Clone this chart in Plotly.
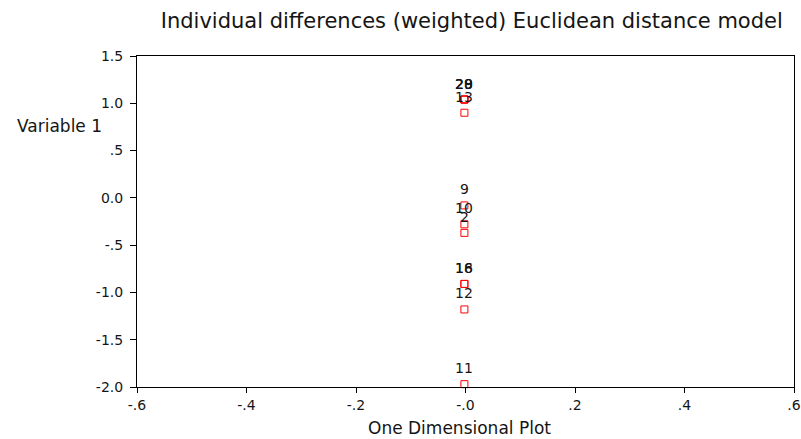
import plotly.graph_objects as go

# Stimulus labels and their coordinates (dimension 1 on the y axis, plot is one-dimensional)
stimulus_labels = ["20", "28", "29", "13", "9", "10", "2", "16", "18", "12", "11"]
dimension1 = [1.04, 1.04, 1.04, 0.90, -0.08, -0.28, -0.37, -0.91, -0.91, -1.18, -1.97]
one_dim_x = [-0.002] * len(stimulus_labels)

y_tickvals = [-2.0, -1.5, -1.0, -0.5, 0.0, 0.5, 1.0, 1.5]
y_ticktext = ["-2.0", "-1.5", "-1.0", "-.5", "0.0", ".5", "1.0", "1.5"]
x_tickvals = [-0.6, -0.4, -0.2, 0.0, 0.2, 0.4, 0.6]
x_ticktext = ["-.6", "-.4", "-.2", "-.0", ".2", ".4", ".6"]

FONT = "DejaVu Sans, Liberation Sans, Arial, sans-serif"
INK = "#151515"

fig = go.Figure()
fig.add_trace(go.Scatter(
    x=one_dim_x, y=dimension1,
    mode="markers",
    marker=dict(symbol="square-open", size=7, color="#ff0000", line=dict(width=1)),
    cliponaxis=False,
    showlegend=False,
    hoverinfo="skip",
))

# point labels placed above each marker
point_labels = [
    dict(x=xv, y=yv, xref="x", yref="y", text=lab, showarrow=False,
         yshift=16, xanchor="center", yanchor="middle",
         font=dict(family=FONT, size=14, color=INK))
    for xv, yv, lab in zip(one_dim_x, dimension1, stimulus_labels)
]

fig.update_layout(
    width=801, height=439,
    margin=dict(l=137, r=7, t=56, b=52, autoexpand=False),
    paper_bgcolor="white", plot_bgcolor="white",
    font=dict(family=FONT, color=INK),
    title=dict(text="Individual differences (weighted) Euclidean distance model",
               x=0.589, xanchor="center", y=0.954, yanchor="middle",
               font=dict(family=FONT, size=21, color=INK)),
    annotations=point_labels + [
        dict(text="Variable 1", xref="paper", yref="paper", x=-0.1857, y=0.789,
             xanchor="left", yanchor="middle", showarrow=False,
             font=dict(family=FONT, size=17, color=INK)),
        dict(text="One Dimensional Plot", xref="paper", yref="paper", x=0.491, y=-0.124,
             xanchor="center", yanchor="middle", showarrow=False,
             font=dict(family=FONT, size=17, color=INK)),
    ],
)

fig.update_xaxes(
    range=[-0.6, 0.6], tickvals=x_tickvals, ticktext=x_ticktext, automargin=False,
    ticklabeloverflow="allow",
    showgrid=False, zeroline=False, showline=True, linecolor="black", linewidth=1,
    mirror=True, ticks="outside", ticklen=5, tickcolor="black",
    tickfont=dict(family=FONT, size=14, color=INK),
)
fig.update_yaxes(
    range=[-2.0, 1.5], tickvals=y_tickvals, ticktext=y_ticktext, automargin=False,
    ticklabeloverflow="allow",
    showgrid=False, zeroline=False, showline=True, linecolor="black", linewidth=1,
    mirror=True, ticks="outside", ticklen=6, tickcolor="black", ticklabelstandoff=4,
    tickfont=dict(family=FONT, size=14, color=INK),
)

fig.write_html("out.html", config={"displayModeBar": False},
               post_script="document.body.style.margin='0';")
